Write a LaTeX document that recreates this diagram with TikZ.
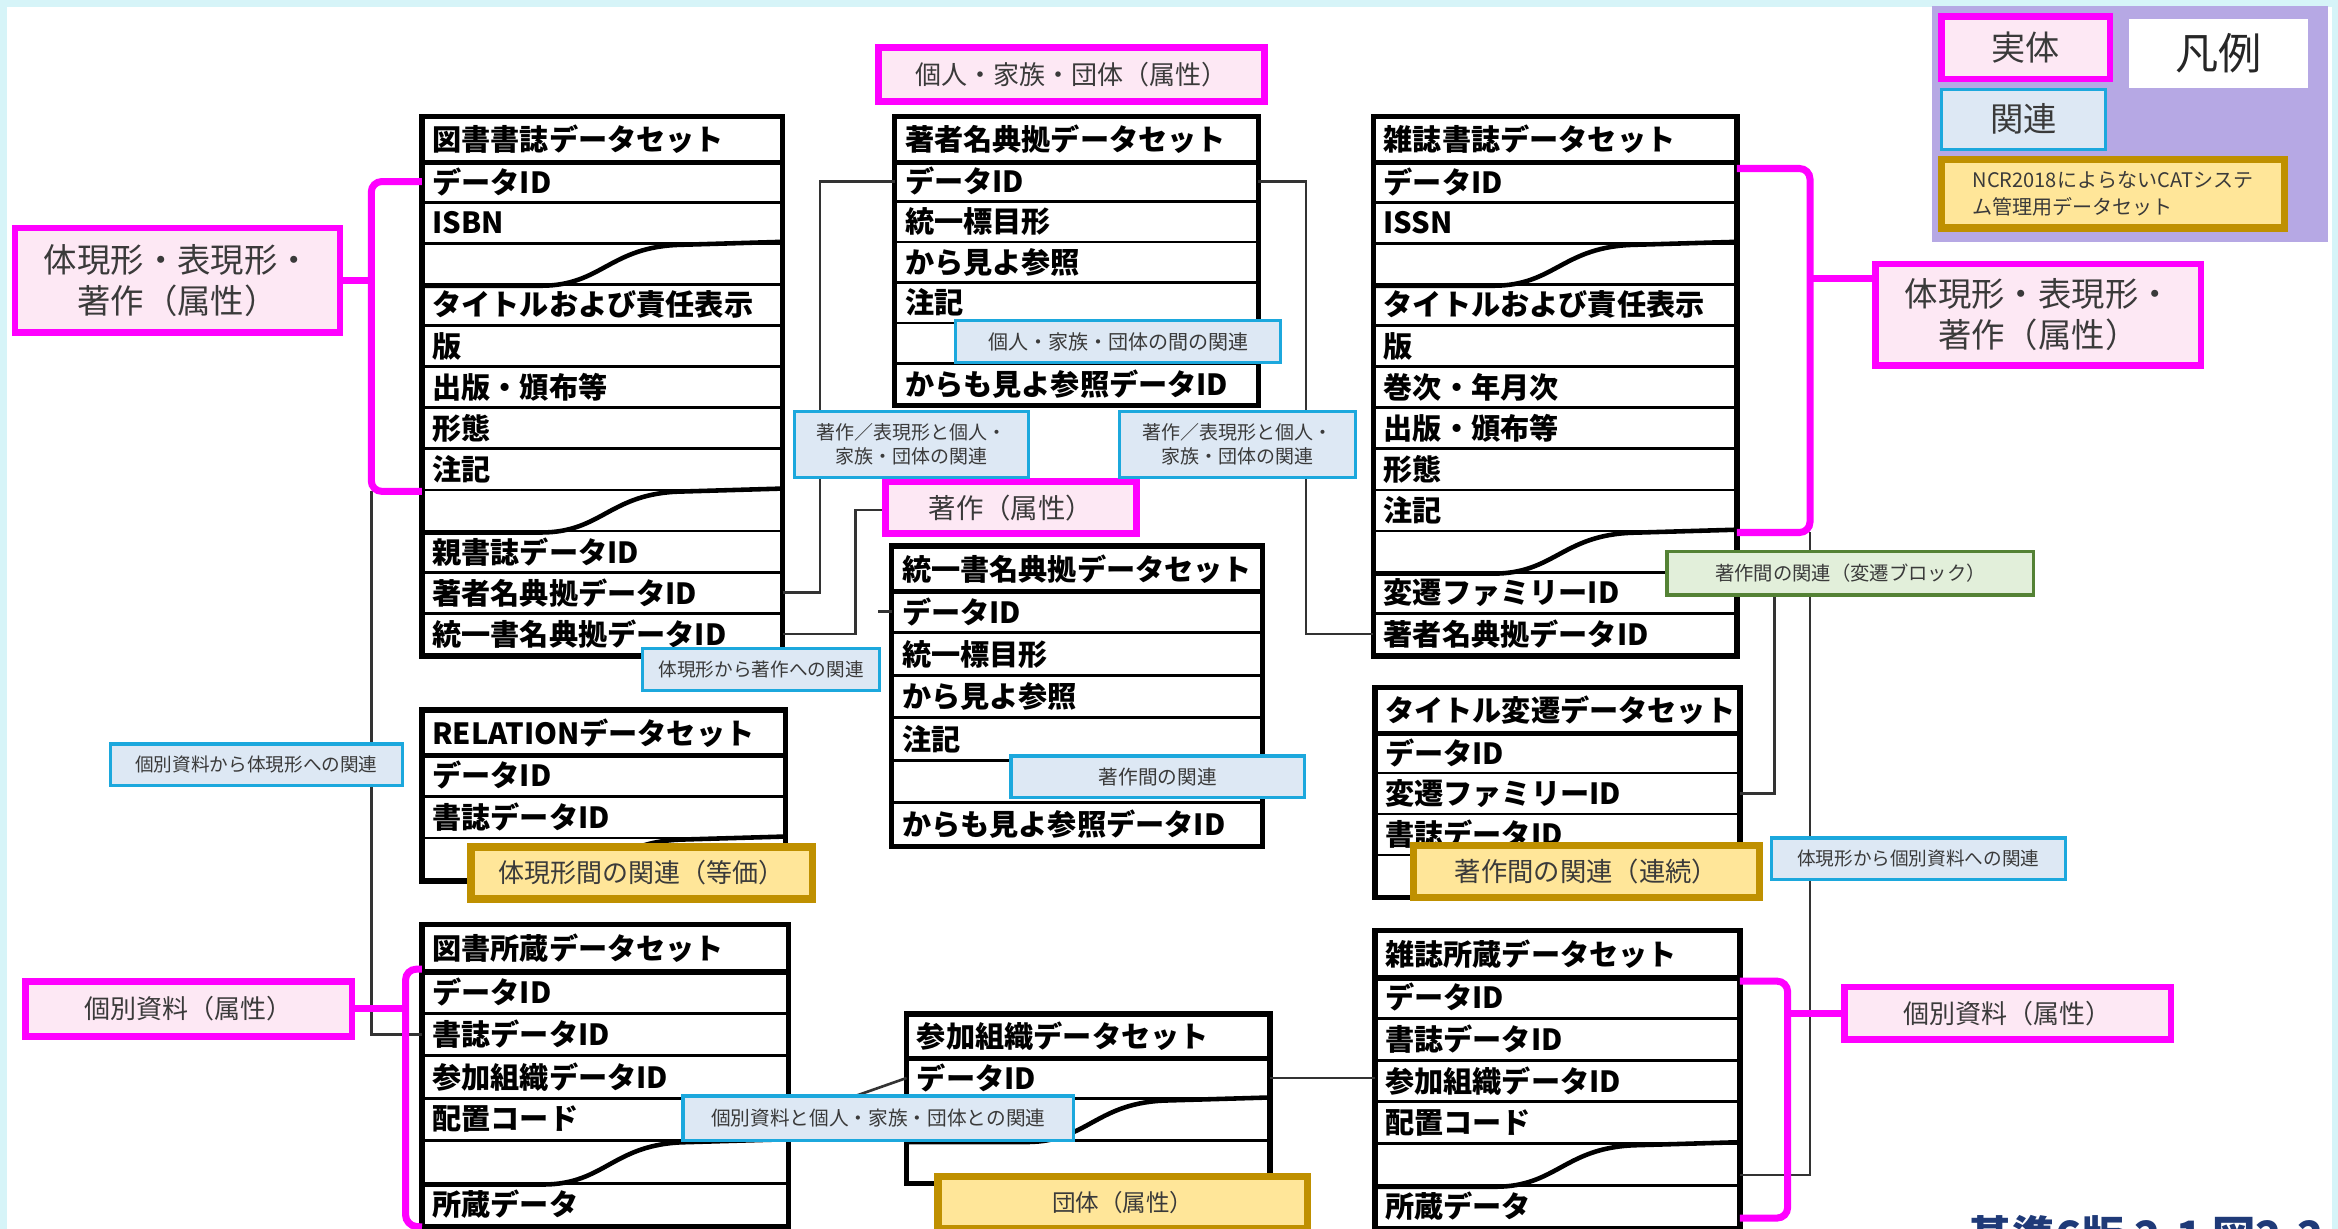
\documentclass[tikz,border=0pt]{standalone}
\usepackage{fontspec}
\setmainfont{Noto Sans CJK JP}
\usetikzlibrary{calc}
\def\U{0.01491cm}
\definecolor{bgc}{HTML}{D6F4F8}
\definecolor{mag}{HTML}{FF00FF}
\definecolor{pinkf}{HTML}{FDE8F4}
\definecolor{bluel}{HTML}{1CA8DD}
\definecolor{bluef}{HTML}{DDE8F4}
\definecolor{goldl}{HTML}{BF9000}
\definecolor{goldf}{HTML}{FFE699}
\definecolor{greenl}{HTML}{548235}
\definecolor{greenf}{HTML}{E2EFDA}
\definecolor{legbg}{HTML}{B6A8E4}
\definecolor{navy}{HTML}{1F3A78}
\definecolor{dtext}{HTML}{3A3A3A}
\newcommand\fs[2]{\fontsize{#1}{#2}\selectfont}
\tikzset{
 trow/.style={draw=black, line width=0.8pt, inner xsep=6*\U, inner ysep=0pt, anchor=north west, align=left, font=\fs{8.3}{10}\bfseries},
 touter/.style={draw=black, line width=1.5pt},
 thead/.style={draw=black, line width=1.5pt},
 tearline/.style={draw=black, line width=1.3pt},
 conn/.style={draw=black!80, line width=0.75pt},
 mbr/.style={draw=mag, line width=2pt, rounded corners=3pt},
 lab/.style={inner sep=0pt, align=center, text=dtext},
 mlab/.style={lab, draw=mag, fill=pinkf, line width=1.9pt},
 blab/.style={lab, draw=bluel, fill=bluef, line width=0.9pt},
 glab/.style={lab, draw=goldl, fill=goldf, line width=2.1pt},
 grlab/.style={lab, draw=greenl, fill=greenf, line width=0.9pt},
}
% name, header, xl, xr, ytop, yheaderbottom, rowheight, rows
\newcommand\dbtable[8]{%
 \pgfmathsetlengthmacro\tw{(#4-#3-12)*\U}%
 \pgfmathsetlengthmacro\hh{(#6-#5)*\U}%
 \pgfmathsetlengthmacro\rh{(#7)*\U}%
 \node[trow, text width=\tw, minimum height=\hh] (#1-0) at (#3,#5) {#2};
 \foreach \r [count=\i] in {#8} {%
   \node[trow, text width=\tw, minimum height=\rh] (#1-\i) at (#3,{#6+(\i-1)*#7}) {\r};
   \xdef\nrows{\i}%
 }%
 \draw[touter] (#1-0.north west) rectangle (#1-\nrows.south east);
 \draw[thead] (#1-0.south west) -- (#1-0.south east);
}
\newcommand\tear[1]{%
 \draw[tearline] (#1.south west) -- ($(#1.south west)!0.33!(#1.south east)$)
  .. controls ($(#1.south west)!0.5!(#1.south east)$) and ($(#1.north west)!0.52!(#1.north east)+(0,3)$)
  .. ($(#1.north west)!0.72!(#1.north east)+(0,2)$) -- (#1.north east);}
% style, name, cx, cy, w, h, text
\newcommand\lbl[7]{\node[#1, minimum width=#5*\U, minimum height=#6*\U] (#2) at (#3,#4) {#7};}
\begin{document}
\begin{tikzpicture}[x=0.01491cm, y=-0.01491cm]
\useasboundingbox (0,0) rectangle (1568,824);
\clip (0,0) rectangle (1568,824);
\fill[bgc] (0,0) rectangle (1568,824);
\fill[white] (5,5) rectangle (1564,830);
\fill[legbg] (1296,4) rectangle (1561,162);

% tables
\dbtable{T1}{図書書誌データセット}{283}{523}{78}{107}{27.58}{データID,ISBN,{},タイトルおよび責任表示,版,出版・頒布等,形態,注記,{},親書誌データID,著者名典拠データID,統一書名典拠データID}
\dbtable{T2}{著者名典拠データセット}{600}{842}{78}{107}{27.17}{データID,統一標目形,から見よ参照,注記,{},からも見よ参照データID}
\dbtable{T3}{雑誌書誌データセット}{921}{1163}{78}{107}{27.58}{データID,ISSN,{},タイトルおよび責任表示,版,巻次・年月次,出版・頒布等,形態,注記,{},変遷ファミリーID,著者名典拠データID}
\dbtable{T4}{統一書名典拠データセット}{598}{845}{366}{395}{28.5}{データID,統一標目形,から見よ参照,注記,{},からも見よ参照データID}
\dbtable{T5}{RELATIONデータセット}{283}{525}{476}{505}{28}{データID,書誌データID,{}}
\dbtable{T6}{タイトル変遷データセット}{922}{1165}{461}{490}{27.5}{データID,変遷ファミリーID,書誌データID,{}}
\dbtable{T7}{図書所蔵データセット}{283}{527}{620}{650}{28.5}{データID,書誌データID,参加組織データID,配置コード,{},所蔵データ}
\dbtable{T8}{参加組織データセット}{608}{850}{680}{708}{28}{データID,{},{}}
\dbtable{T9}{雑誌所蔵データセット}{922}{1165}{624}{654}{28}{データID,書誌データID,参加組織データID,配置コード,{},所蔵データ}
\tear{T1-3}\tear{T1-9}\tear{T3-3}\tear{T3-10}\tear{T5-3}\tear{T7-5}\tear{T8-2}\tear{T9-5}

% labels needed for connectors (defined before connectors via coordinates)
\coordinate (lbk) at ($(T1-8.south west)+(-34,0)$);
\coordinate (rbk) at ($(T3-9.south east)+(49,0)$);
\coordinate (lbk2) at ($(T7-6.south west)+(-11,-1)$);
\coordinate (rbk2) at ($(T9-6.south east)+(32,-7)$);

% thin connectors
\coordinate (zsw) at (594,342);
\draw[conn] (T1-11.east) -- ++(25,0) |- (T2-1.west);
\draw[conn] (T1-12.east) -- ++(49,0) |- (zsw);
\draw[conn] (T2-1.east) -- ++(32,0) |- (T3-12.west);
\draw[conn] (T3-11.east) -- ++(25,0) |- (T6-2.east);
\draw[conn] (T7-4.east) -- (T8-1.west);
\draw[conn] (T8-1.east) -- (T8-1.east -| T9-3.west);
\draw[conn] (T4-1.west) -- ++(-9,0);
\draw[conn] (lbk) |- (T7-2.west);
\draw[conn] (rbk) |- ($(T9-5.south east)+(0,-8)$);

% labels
\lbl{mlab,font=\fs{7.4}{9}}{pl}{718.5}{50}{259}{36}{個人・家族・団体（属性）}
\lbl{mlab,font=\fs{9.5}{11.8}}{mL}{119}{188}{218}{70}{体現形・表現形・\\著作（属性）}
\lbl{mlab,font=\fs{9.5}{11.8}}{mR}{1367}{211}{218}{68}{体現形・表現形・\\著作（属性）}
\lbl{mlab,font=\fs{7.8}{9}}{zs}{678}{340.5}{168}{35}{著作（属性）}
\lbl{mlab,font=\fs{7.4}{9}}{kL}{126.5}{676.5}{219}{37}{個別資料（属性）}
\lbl{mlab,font=\fs{7.4}{9}}{kR}{1346.5}{679.5}{219}{35}{個別資料（属性）}

% magenta brackets
\coordinate (mRc) at ($(mR.north west)+(0,12)$);
\draw[mbr] (T1-1.west) -| (lbk) -- (T1-8.south west);
\draw[mbr] (mL.east) -- (mL.east -| lbk);
\draw[mbr] ($(T3-1.north east)+(0,6)$) -| (rbk) -- (T3-9.south east);
\draw[mbr] (mRc) -- (mRc -| rbk);
\draw[mbr] (T7-1.north west) -| (lbk2) -- (T7-6.south west);
\draw[mbr] (kL.east) -- (kL.east -| lbk2);
\draw[mbr] ($(T9-1.north east)+(0,4)$) -| (rbk2) -- ($(T9-6.south east)+(0,-7)$);
\draw[mbr] (kR.west) -- (kR.west -| rbk2);

% relation labels
\lbl{blab,font=\fs{5.7}{7}}{b1}{750}{229}{218}{28}{個人・家族・団体の間の関連}
\lbl{blab,font=\fs{5.4}{6.9}}{b2}{611.5}{298}{157}{44}{著作／表現形と個人・\\家族・団体の関連}
\lbl{blab,font=\fs{5.4}{6.9}}{b3}{830}{298}{158}{44}{著作／表現形と個人・\\家族・団体の関連}
\lbl{blab,font=\fs{5.3}{7}}{b4}{510.5}{449}{159}{28}{体現形から著作への関連}
\lbl{blab,font=\fs{5.3}{7}}{b5}{172}{513}{196}{28}{個別資料から体現形への関連}
\lbl{blab,font=\fs{5.6}{7}}{b6}{776.5}{521}{197}{28}{著作間の関連}
\lbl{blab,font=\fs{5.3}{7}}{b7}{1286.5}{576}{197}{28}{体現形から個別資料への関連}
\lbl{blab,font=\fs{5.6}{7}}{b8}{589}{750}{262}{30}{個別資料と個人・家族・団体との関連}
\lbl{grlab,font=\fs{5.5}{7}}{gr}{1241}{384.5}{246}{29}{著作間の関連（変遷ブロック）}
\lbl{glab,font=\fs{7.4}{9}}{g1}{430.5}{585.5}{229}{35}{体現形間の関連（等価）}
\lbl{glab,font=\fs{7.5}{9}}{g2}{1064}{584.5}{232}{35}{著作間の関連（連続）}
\lbl{glab,font=\fs{6.7}{8}}{g3}{753}{806.5}{248}{35}{団体（属性）}

% legend
\lbl{mlab,font=\fs{9.7}{11}}{lg1}{1358.5}{32}{113}{42}{実体}
\lbl{lab,fill=white,text=black!85,font=\fs{12.3}{14}}{lg0}{1488}{36}{120}{46}{凡例}
\lbl{blab,font=\fs{9.5}{11}}{lg2}{1357}{80}{110}{40}{関連}
\node[glab, minimum width=230*\U, minimum height=46*\U, align=left, font=\fs{5.7}{7.6}] (lg3) at (1417,130) {NCR2018によらないCATシステ\\ム管理用データセット};

% caption (cut off at bottom)
\node[anchor=base west, text=navy, font=\fs{12.3}{14}\bfseries, inner sep=0pt] (cap) at (1320,840) {基準6版 2.1 図2.2};
\end{tikzpicture}
\end{document}
